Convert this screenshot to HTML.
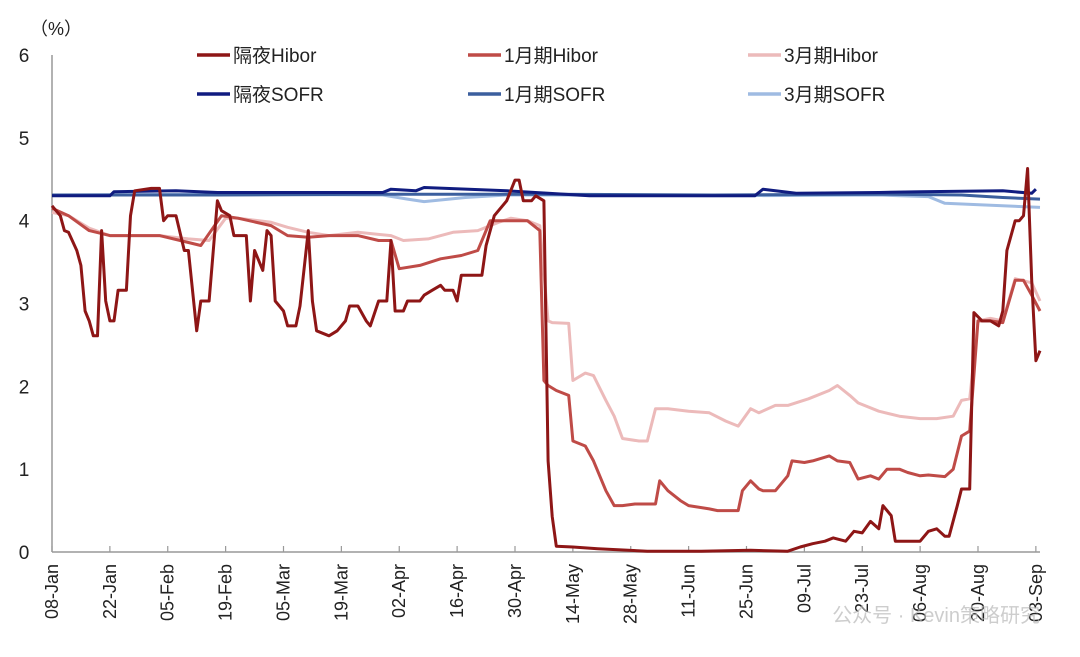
<!DOCTYPE html>
<html><head><meta charset="utf-8"><style>
body{margin:0;background:#fff;}
svg{display:block;font-family:"Liberation Sans","Noto Sans CJK SC",sans-serif;}
</style></head><body>
<svg id="chart" width="1080" height="657" viewBox="0 0 1080 657"></svg>
<script>
const tickDays=[0,14,28,42,56,70,84,98,112,126,140,154,168,182,196,210,224,238];
const tickLabels=["08-Jan","22-Jan","05-Feb","19-Feb","05-Mar","19-Mar","02-Apr","16-Apr","30-Apr","14-May","28-May","11-Jun","25-Jun","09-Jul","23-Jul","06-Aug","20-Aug","03-Sep"];
const yTicks=[0,1,2,3,4,5,6];
const onHiborDays=[0,2,3,4,6,7,8,9,10,11,12,13,14,15,16,18,19,20,24,26,27,28,29,30,32,33,35,36,38,40,41,43,44,47,48,49,51,52,53,54,56,57,59,60,62,63,64,67,69,71,72,74,76,77,79,81,82,83,85,86,89,90,92,94,95,97,98,99,100,102,104,105,107,110,112,113,114,116,117,119,120,121,122,126,132,144,157,169,178,181,184,187,189,192,194,196,198,200,201,203,204,207,210,212,214,216,217,219,220,222,223,225,227,229,230,231,233,234,235,236,237,238,239];
const onHiborVals=[4.18,4.06,3.88,3.86,3.64,3.46,2.91,2.79,2.61,2.61,3.88,3.03,2.79,2.79,3.16,3.16,4.06,4.36,4.39,4.39,4.00,4.06,4.06,4.06,3.64,3.64,2.67,3.03,3.03,4.24,4.12,4.06,3.82,3.82,3.03,3.64,3.40,3.88,3.82,3.03,2.91,2.73,2.73,2.97,3.88,3.03,2.67,2.61,2.67,2.79,2.97,2.97,2.79,2.73,3.03,3.03,3.76,2.91,2.91,3.03,3.03,3.10,3.16,3.22,3.16,3.16,3.03,3.34,3.34,3.34,3.34,3.70,4.06,4.24,4.49,4.49,4.24,4.24,4.30,4.24,1.10,0.43,0.07,0.06,0.04,0.01,0.01,0.02,0.01,0.06,0.10,0.13,0.17,0.13,0.25,0.23,0.37,0.28,0.56,0.44,0.13,0.13,0.13,0.25,0.28,0.19,0.19,0.56,0.76,0.76,2.89,2.79,2.79,2.73,2.91,3.64,4.00,4.00,4.06,4.63,3.28,2.31,2.43];
const m1HiborDays=[0,4,9,14,19,26,31,36,41,45,53,57,62,67,74,79,82,84,89,94,99,103,106,111,115,118,119,120,122,125,126,129,131,134,136,138,141,146,147,149,152,154,159,161,166,167,169,171,172,175,178,179,182,184,188,190,193,195,198,200,202,205,207,210,212,216,218,220,222,224,227,230,233,235,237,239];
const m1HiborVals=[4.15,4.06,3.88,3.82,3.82,3.82,3.76,3.70,4.06,4.03,3.94,3.82,3.80,3.82,3.82,3.76,3.76,3.42,3.46,3.54,3.58,3.64,4.00,4.00,4.00,3.88,2.07,2.01,1.95,1.89,1.34,1.28,1.10,0.74,0.56,0.56,0.58,0.58,0.86,0.74,0.62,0.56,0.52,0.50,0.50,0.74,0.86,0.76,0.74,0.74,0.92,1.10,1.08,1.10,1.16,1.10,1.08,0.88,0.92,0.88,1.00,1.00,0.96,0.92,0.93,0.91,1.00,1.40,1.46,2.79,2.79,2.77,3.28,3.28,3.10,2.91];
const m3HiborDays=[0,4,9,14,19,26,33,38,42,45,53,57,62,67,74,82,85,91,97,103,108,111,115,118,120,121,125,126,129,131,134,136,138,142,144,146,149,154,159,163,166,169,171,175,178,183,188,190,193,195,200,205,210,214,218,220,222,224,227,230,233,237,239];
const m3HiborVals=[4.10,4.06,3.91,3.82,3.82,3.82,3.78,3.76,4.03,4.03,3.98,3.92,3.86,3.82,3.86,3.82,3.76,3.78,3.86,3.88,3.98,4.03,4.00,3.94,2.79,2.77,2.76,2.07,2.16,2.13,1.83,1.64,1.37,1.34,1.34,1.73,1.73,1.70,1.68,1.58,1.52,1.73,1.68,1.77,1.77,1.85,1.95,2.01,1.89,1.80,1.70,1.64,1.61,1.61,1.64,1.83,1.85,2.79,2.82,2.79,3.30,3.25,3.03];
const onSofrDays=[0,14,15,30,40,60,80,82,88,90,110,120,130,170,172,175,180,200,210,230,237,238];
const onSofrVals=[4.30,4.30,4.35,4.36,4.34,4.34,4.34,4.38,4.36,4.40,4.36,4.33,4.30,4.30,4.38,4.36,4.33,4.34,4.35,4.36,4.33,4.38];
const m1SofrDays=[0,40,80,120,160,200,220,230,239];
const m1SofrVals=[4.31,4.31,4.32,4.32,4.31,4.32,4.31,4.28,4.26];
const m3SofrDays=[0,40,80,86,90,100,110,120,160,200,212,216,225,239];
const m3SofrVals=[4.31,4.32,4.31,4.26,4.23,4.28,4.31,4.31,4.30,4.31,4.29,4.21,4.19,4.16];

const X0=52,X1=1040,Y0=552,Y6=55,DMAX=239;
const xs=d=>X0+(X1-X0)*d/DMAX;
const ys=v=>Y0-(Y0-Y6)*v/6;
const svg=document.getElementById('chart');
const NS='http://www.w3.org/2000/svg';
function mk(tag,attrs,parent){const e=document.createElementNS(NS,tag);for(const k in attrs)e.setAttribute(k,attrs[k]);(parent||svg).appendChild(e);return e;}

const axisY=mk('line',{x1:X0,y1:Y6,x2:X0,y2:Y0,stroke:'#999','stroke-width':1.5});


const axisX=mk('line',{x1:X0,y1:Y0,x2:X1,y2:Y0,stroke:'#999','stroke-width':1.5});


yTicks.forEach(v=>{
  const t=mk('text',{x:24,y:ys(v)+7,'font-size':19,'text-anchor':'middle',fill:'#222'});t.textContent=v;
  
  
});
const unit=mk('text',{x:56,y:35,'font-size':18,'text-anchor':'middle',fill:'#222'});unit.textContent='（%）';


tickDays.forEach((d,i)=>{
  const x=xs(d);
  const tk=mk('line',{x1:x,y1:Y0,x2:x,y2:Y0-6,stroke:'#999','stroke-width':1.2});
  
  
  const t=mk('text',{x:0,y:0,'font-size':18,'text-anchor':'end',fill:'#222',transform:`translate(${x+6},${Y0+12}) rotate(-90)`});
  t.textContent=tickLabels[i];
  
  
});
function series(days,vals,color,name){
  const p=mk('path',{d:days.map((d,i)=>(i?'L':'M')+xs(d).toFixed(1)+','+ys(vals[i]).toFixed(1)).join(''),fill:'none',stroke:color,'stroke-width':3,'stroke-linejoin':'round'});
  
  
}
series(m3SofrDays,m3SofrVals,'#9fbbe2','line-3m-sofr');
series(m1SofrDays,m1SofrVals,'#3b5f9e','line-1m-sofr');
series(onSofrDays,onSofrVals,'#101c80','line-overnight-sofr');
series(m3HiborDays,m3HiborVals,'#ecbaba','line-3m-hibor');
series(m1HiborDays,m1HiborVals,'#bf4b47','line-1m-hibor');
series(onHiborDays,onHiborVals,'#8e1616','line-overnight-hibor');

const legend=[['隔夜Hibor','#8e1616',197,55,'legend-overnight-hibor'],['1月期Hibor','#bf4b47',468,55,'legend-1m-hibor'],['3月期Hibor','#ecbaba',748,55,'legend-3m-hibor'],['隔夜SOFR','#101c80',197,94,'legend-overnight-sofr'],['1月期SOFR','#3b5f9e',468,94,'legend-1m-sofr'],['3月期SOFR','#9fbbe2',748,94,'legend-3m-sofr']];
legend.forEach(l=>{
  const g=mk('g',{});
  
  
  mk('line',{x1:l[2],y1:l[3],x2:l[2]+33,y2:l[3],stroke:l[1],'stroke-width':3.5},g);
  const t=mk('text',{x:l[2]+36,y:l[3]+7,'font-size':19,fill:'#222'},g);t.textContent=l[0];
});
const wm=mk('text',{x:1040,y:622,'font-size':20,'text-anchor':'end',fill:'#b8b8b8','fill-opacity':0.7});wm.textContent='公众号 · Kevin策略研究';


</script>
</body></html>
